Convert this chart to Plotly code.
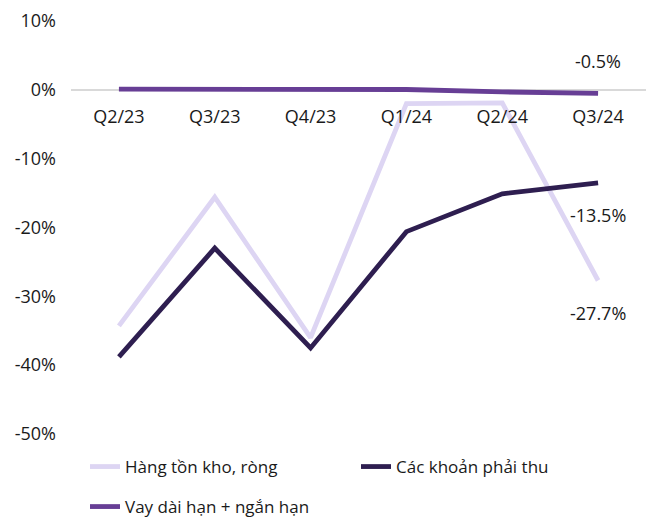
import plotly.graph_objects as go

categories = ["Q2/23", "Q3/23", "Q4/23", "Q1/24", "Q2/24", "Q3/24"]
hang_ton_kho = [-34.3, -15.6, -36.0, -2.0, -1.9, -27.7]
cac_khoan_phai_thu = [-38.8, -23.0, -37.5, -20.6, -15.1, -13.5]
vay = [0.1, 0.05, 0.05, 0.05, -0.3, -0.5]

names = ["Hàng tồn kho, ròng", "Các khoản phải thu", "Vay dài hạn + ngắn hạn"]
colors = ["#DDD5F3", "#2E1E50", "#673E95"]

FONT = "Open Sans"
TXT = "#1a1a1a"
fig = go.Figure()
series = [hang_ton_kho, cac_khoan_phai_thu, vay]
legends = ["legend", "legend", "legend2"]
for name, vals, col, lg in zip(names, series, colors, legends):
    fig.add_trace(go.Scatter(
        x=categories, y=vals, mode="lines", name=name,
        line=dict(color=col, width=4.8), legend=lg, cliponaxis=False,
    ))

# data labels on last point
label_shifts = [(hang_ton_kho, -32), (cac_khoan_phai_thu, -32), (vay, 32)]
for vals, shift in label_shifts:
    fig.add_annotation(
        x=categories[-1], y=vals[-1], text=f"{vals[-1]:.1f}%",
        showarrow=False, yshift=shift, xshift=0,
        font=dict(family=FONT, size=18, color=TXT),
    )

fig.update_layout(
    width=646, height=518,
    margin=dict(l=71, r=0, t=21, b=84, autoexpand=False),
    plot_bgcolor="white", paper_bgcolor="white",
    font=dict(family=FONT, size=18, color=TXT),
    showlegend=True,
    legend=dict(
        orientation="h", xref="container", yref="container",
        x=85/646, y=1-467/518, xanchor="left", yanchor="middle",
        entrywidth=226, entrywidthmode="pixels",
        font=dict(family=FONT, size=17, color=TXT),
        itemwidth=30, bgcolor="rgba(0,0,0,0)",
    ),
    legend2=dict(
        orientation="h", xref="container", yref="container",
        x=85/646, y=1-507/518, xanchor="left", yanchor="middle",
        font=dict(family=FONT, size=17, color=TXT),
        itemwidth=30, bgcolor="rgba(0,0,0,0)",
    ),
    xaxis=dict(
        type="category", anchor="free", position=50/60,
        showgrid=False, showline=False, ticks="",
        tickfont=dict(family=FONT, size=18, color=TXT),
        ticklabelstandoff=14,
        range=[-0.5, 5.5],
    ),
    yaxis=dict(
        range=[-50, 10], tickvals=[10, 0, -10, -20, -30, -40, -50],
        ticktext=["10%", "0%", "-10%", "-20%", "-30%", "-40%", "-50%"],
        showgrid=False, zeroline=True, zerolinecolor="#D9D9D9", zerolinewidth=1.5,
        showline=False, ticks="", ticklabelstandoff=14,
        tickfont=dict(family=FONT, size=18, color=TXT),
    ),
)

fig.write_html("out.html")
